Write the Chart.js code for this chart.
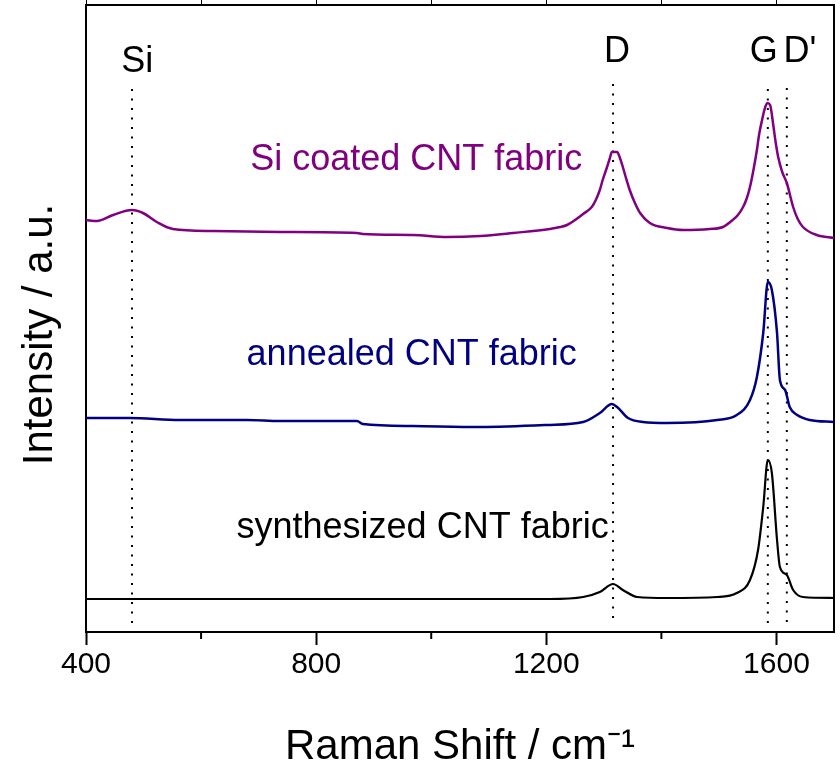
<!DOCTYPE html>
<html><head><meta charset="utf-8">
<script src="https://cdn.jsdelivr.net/npm/chart.js@4.4.1/dist/chart.umd.min.js"></script>
<style>html,body{margin:0;padding:0;background:#fff;}#wrap{width:840px;height:768px;}</style>
</head><body><div id="wrap"><canvas id="c" width="840" height="768"></canvas></div>
<script>
// ---- data (Raman shift in cm-1, intensity in arbitrary units, curves offset) ----
const shiftSi = [400,419,447,480,499,523,551,621,737,871,881,968,1027,1085,1142,1206,1224,1236,1250,1264,1279,1286,1293,1298,1305,1310,1314,1323,1328,1332,1338,1345,1354,1363,1380,1410,1438,1484,1507,1524,1533,1542,1548,1554,1560,1566,1570,1575,1579,1584,1589,1594,1598,1603,1610,1618,1629,1637,1646,1670,1700];
const intSi   = [412,411,417,422,419,410,403,401,400,399,398,397,395,396,399,403,405,407,412,418,425,432,442,452,464,473,480,480,474,467,455,442,429,419,409,404,402,403,405,412,417,425,433,445,462,482,498,512,522,529,527,509,492,475,460,449,425,413,405,397,394];

const shiftAnn = [400,476,563,680,737,871,881,968,1085,1201,1264,1293,1314,1323,1342,1368,1410,1497,1531,1554,1566,1577,1585,1592,1601,1606,1615,1623,1636,1658,1700];
const intAnn   = [214,214,212,212,211,211,208,206,205,207,210,219,228,225,214,210,209,212,217,232,255,299,350,342,299,252,242,225,217,212,210];

const shiftSyn = [400,700,1000,1206,1264,1293,1316,1333,1358,1410,1497,1531,1554,1568,1577,1585,1592,1601,1606,1618,1629,1646,1700];
const intSyn   = [33,33,33,33,35,40,48,42,35,34,35,39,52,82,125,172,159,92,65,57,42,35,34];

// band positions (dotted guide lines)
const bandShift  = [480,1316,1585,1618];
const bandTop    = [544,549,544,547];
const bandBottom = [9,14,9,10];

// axis
const xMin = 400, xMax = 1700, xStep = 200, xLabelStep = 400;
const yMin = 0, yMax = 627;
const xTitle = 'Raman Shift / cm\u207B\u00B9';
const yTitle = 'Intensity / a.u.';

// text labels (data coordinates)
const labelTexts  = ['Si','D','G',"D'",'Si coated CNT fabric','annealed CNT fabric','synthesized CNT fabric'];
const labelShift  = [489,1323,1578,1641,974,966,985];
const labelInt    = [570,580,580,580,472,277,104];
const labelColors = ['#000','#000','#000','#000','#800080','#000080','#000'];

const FONT = "'Liberation Sans', Arial, sans-serif";

function pts(xs, ys){ return xs.map((x,i)=>({x:x,y:ys[i]})); }

const datasets = [
  {data: pts(shiftSi,intSi), borderColor:'#800080', borderWidth:2.5},
  {data: pts(shiftAnn,intAnn), borderColor:'#000080', borderWidth:2.5},
  {data: pts(shiftSyn,intSyn), borderColor:'#000000', borderWidth:2.2}
].map(d=>Object.assign(d,{pointRadius:0, cubicInterpolationMode:'monotone', fill:false}));

bandShift.forEach((s,i)=>{
  datasets.push({data:[{x:s,y:bandBottom[i]},{x:s,y:bandTop[i]}], borderColor:'#000', borderWidth:2,
    borderDash:[2,7.5], borderCapStyle:'butt', pointRadius:0, fill:false});
});

const minorTicks = {
  id:'minorTicks',
  afterDraw(chart){
    const s = chart.scales.x, ctx = chart.ctx;
    ctx.save(); ctx.strokeStyle='#000'; ctx.lineWidth=2;
    s.ticks.forEach(t=>{
      if (t.value % xLabelStep !== 0){
        const px = s.getPixelForValue(t.value);
        ctx.beginPath(); ctx.moveTo(px, s.top); ctx.lineTo(px, s.top+7); ctx.stroke();
      }
    });
    ctx.restore();
  }
};

const textLabels = {
  id:'textLabels',
  afterDatasetsDraw(chart){
    const x = chart.scales.x, y = chart.scales.y, ctx = chart.ctx;
    ctx.save();
    ctx.textAlign='center'; ctx.textBaseline='middle';
    labelTexts.forEach((t,i)=>{
      ctx.font = '36px ' + FONT;
      ctx.fillStyle = labelColors[i];
      ctx.fillText(t, x.getPixelForValue(labelShift[i]), y.getPixelForValue(labelInt[i]));
    });
    // y axis title
    const ca = chart.chartArea;
    ctx.translate(40, (ca.top + ca.bottom)/2 + 16);
    ctx.rotate(-Math.PI/2);
    ctx.font = '42px ' + FONT;
    ctx.fillStyle = '#000';
    ctx.fillText(yTitle, 0, 0);
    ctx.restore();
  }
};

new Chart(document.getElementById('c'), {
  type:'line',
  data:{datasets},
  options:{
    responsive:false, animation:false,
    layout:{padding:0},
    plugins:{legend:{display:false}, tooltip:{enabled:false}},
    scales:{
      x:{type:'linear', position:'bottom', min:xMin, max:xMax,
        afterFit(s){ s.height = 136; },
        border:{display:true, color:'#000', width:2},
        grid:{drawOnChartArea:false, drawTicks:true, tickLength:13, tickWidth:2,
          tickColor:(c)=> (c.tick && c.tick.value % xLabelStep === 0) ? '#000' : 'rgba(0,0,0,0)'},
        ticks:{stepSize:xStep, includeBounds:false, maxRotation:0, autoSkip:false, padding:2, color:'#000',
          font:{family:FONT, size:30},
          callback:(v)=> v % xLabelStep === 0 ? String(v) : ''},
        title:{display:true, text:xTitle, color:'#000',
          font:{family:FONT, size:42, lineHeight:1}, padding:{top:0,bottom:0}}
      },
      x2:{type:'linear', position:'top', min:xMin, max:xMax,
        afterFit(s){ s.height = 5; },
        border:{display:true, color:'#000', width:2},
        grid:{drawOnChartArea:false, drawTicks:true, tickLength:5, tickWidth:1, tickColor:'#000'},
        ticks:{display:false, stepSize:xStep, includeBounds:false}
      },
      y:{type:'linear', position:'left', min:yMin, max:yMax,
        afterFit(s){ s.width = 86; },
        border:{display:true, color:'#000', width:2},
        grid:{display:false},
        ticks:{display:false},
        title:{display:false, text:yTitle}
      },
      y2:{type:'linear', position:'right', min:yMin, max:yMax,
        afterFit(s){ s.width = 6; },
        border:{display:true, color:'#000', width:2},
        grid:{display:false},
        ticks:{display:false}
      }
    }
  },
  plugins:[minorTicks, textLabels]
});
</script></body></html>
